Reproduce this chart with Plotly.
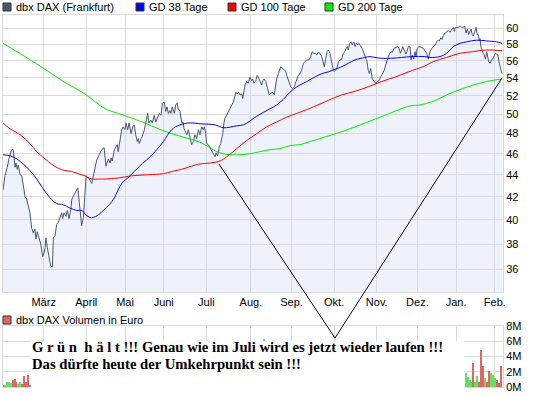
import plotly.graph_objects as go
import math

# ---------------- data ----------------
# x = trading-day index (0 = end of Jan 2009), y = price in EUR
price_x = [0, 1.0, 2.2, 3.3, 4.5, 5.3, 5.7, 6.2, 6.7, 7.4, 7.9, 8.8, 9.7, 10.5, 11.4, 12.2, 13.1, 13.9, 14.8, 15.6,
           16.5, 17.0, 17.7, 18.7, 19.5, 20.5, 21.2, 21.7, 22.2, 22.9, 23.9, 24.6, 25.5, 26.0, 26.9, 27.7, 28.6, 29.4,
           30.3, 30.8, 31.5, 32.5, 33.2, 34.1, 35.0, 35.6, 36.7, 37.7, 38.6, 39.4, 40.1, 40.6, 41.5, 42.3, 42.9, 43.5,
           44.6, 45.8, 47.0, 48.4, 49.7, 51.0, 52.2, 53.2, 54.4, 55.3, 55.8, 56.4, 57.5, 58.2, 59.0, 59.5, 60.4, 61.3,
           62.1, 63.0, 63.5, 64.4, 65.1, 66.1, 67.0, 67.8, 68.5, 69.4, 69.9, 70.4, 71.3, 71.9, 73.0, 73.7, 74.7, 75.4,
           76.3, 77.1, 78.1, 78.9, 79.9, 80.7, 81.6, 82.3, 83.3, 84.0, 84.7, 85.4, 86.1, 86.8, 87.4, 88.5, 89.2, 89.9,
           90.5, 91.4, 92.3, 93.0, 93.5, 94.1, 94.9, 95.7, 96.6, 97.4, 98.3, 99.1, 100.0, 100.9, 101.7, 102.6, 103.4,
           104.0, 104.7, 105.2, 106.0, 106.9, 107.8, 108.6, 109.5, 110.0, 110.7, 111.2, 111.7, 112.4, 112.9, 113.5,
           114.1, 114.6, 115.5, 116.3, 117.2, 118.1, 118.9, 119.8, 120.3, 121.0, 121.7, 122.4, 123.3, 123.8, 124.5,
           125.0, 125.8, 126.7, 127.5, 128.4, 128.9, 129.6, 130.5, 131.3, 132.2, 132.7, 133.6, 134.1, 134.8, 135.7,
           136.5, 137.5, 138.4, 139.3, 140.1, 140.6, 141.3, 142.2, 143.4, 144.4, 145.3, 146.0, 146.8, 147.7, 148.6,
           149.6, 150.4, 151.3, 152.5, 153.4, 154.2, 155.1, 156.0, 156.8, 158.0, 158.9, 159.7, 160.2, 161.3, 162.0,
           162.8, 163.7, 164.6, 165.4, 165.9, 166.6, 167.3, 168.0, 168.9, 169.4, 170.0, 170.6, 171.1, 171.8, 172.5,
           173.2, 174.0, 174.9, 175.7, 176.6, 177.1, 177.8, 178.3, 179.0, 179.7, 180.4, 181.1, 181.8, 182.5, 183.2,
           183.8, 184.7, 185.5, 186.4, 187.3, 188.0, 188.6, 189.2, 189.9, 190.7, 191.7, 192.5, 193.3, 194.2, 195.0,
           196.1, 196.9, 197.6, 198.5, 199.3, 200.4, 201.0, 201.9, 202.8, 203.8, 204.5, 205.2, 205.9, 206.4, 207.2,
           208.1, 208.6, 209.3, 210.2, 210.7, 211.4, 212.1, 212.8, 213.3, 213.9, 214.8, 216.2, 217.0, 217.9, 218.8,
           219.6, 220.5, 221.4, 222.2, 223.1, 224.0, 224.8, 225.3, 226.1, 226.7, 227.4, 228.3, 229.1, 230.0, 230.8,
           231.7, 232.5, 233.1, 233.6, 234.3, 235.1, 236.0, 236.9, 237.7, 238.4, 239.1, 239.8, 240.5, 241.2, 241.7,
           242.3, 242.9, 243.4, 244.3, 244.9, 245.4, 246.0, 246.3, 246.8, 247.5, 248.0, 248.5, 249.1, 249.8, 250.3,
           250.8, 251.5, 252.2, 252.9, 253.6, 254.2, 254.9, 255.6, 256.1, 256.6, 257.2, 257.7]
price_y = [42.6, 43.9, 44.7, 45.7, 46.4, 46.4, 45.7, 44.7, 45.1, 44.5, 44.9, 44.0, 43.9, 42.8, 42.0, 41.8, 41.2, 40.6,
           39.3, 38.9, 39.2, 38.4, 39.0, 38.5, 38.0, 37.0, 37.3, 37.7, 38.5, 37.7, 37.0, 36.3, 36.2, 38.5, 38.7, 39.6,
           39.8, 40.1, 40.6, 40.1, 40.6, 40.3, 40.8, 40.1, 40.9, 41.8, 42.2, 42.5, 42.8, 41.5, 40.2, 39.5, 40.2, 42.0,
           43.9, 43.8, 43.6, 43.2, 44.1, 45.4, 45.9, 46.4, 46.6, 44.8, 45.5, 45.1, 45.6, 45.3, 46.4, 46.7, 46.9, 46.2,
           47.2, 48.4, 48.7, 48.4, 49.1, 48.4, 49.1, 48.0, 48.7, 48.9, 47.9, 47.2, 47.5, 47.0, 47.5, 47.7, 48.4, 49.2,
           50.1, 49.1, 49.4, 49.1, 49.9, 49.2, 49.7, 50.1, 49.9, 51.2, 51.3, 50.3, 50.8, 50.1, 50.4, 50.1, 50.8, 50.1,
           51.0, 51.2, 50.6, 50.3, 49.1, 49.2, 48.5, 48.2, 47.9, 48.4, 47.5, 46.9, 47.2, 47.9, 47.5, 48.4, 47.9, 48.7,
           48.4, 48.7, 48.0, 47.0, 46.9, 46.6, 46.3, 45.9, 45.7, 46.1, 45.8, 46.1, 46.7, 47.0, 47.5, 48.0, 49.1, 49.6,
           49.9, 50.3, 50.6, 51.0, 51.3, 52.1, 52.4, 52.2, 52.4, 52.1, 52.2, 51.7, 52.8, 53.2, 53.6, 53.4, 54.1, 53.7,
           53.9, 53.4, 53.7, 54.3, 53.9, 53.6, 53.2, 53.7, 53.9, 53.6, 52.8, 52.1, 52.3, 52.4, 52.1, 52.8, 53.9, 54.5,
           55.3, 55.1, 54.9, 54.8, 54.1, 53.6, 53.0, 52.8, 53.0, 53.6, 54.3, 54.5, 54.9, 55.7, 55.9, 56.1, 56.1, 56.5,
           57.1, 56.9, 56.9, 56.7, 57.0, 56.9, 56.5, 55.5, 55.3, 56.2, 57.1, 57.3, 56.9, 56.2, 55.5, 54.9, 54.8, 54.9,
           55.2, 55.9, 56.1, 56.2, 56.9, 57.1, 57.5, 57.7, 57.3, 58.1, 58.3, 57.9, 58.3, 57.7, 58.1, 57.9, 58.1, 57.7,
           57.5, 56.9, 56.2, 55.9, 54.9, 54.5, 55.1, 53.9, 53.6, 53.4, 53.6, 53.7, 54.1, 54.5, 54.9, 55.5, 56.1, 56.7,
           57.1, 57.0, 57.5, 57.6, 57.7, 57.5, 56.9, 57.3, 57.7, 57.3, 56.8, 57.1, 57.7, 57.7, 56.1, 56.7, 56.2, 57.1,
           56.5, 57.5, 57.7, 57.6, 57.5, 57.2, 56.9, 56.2, 57.1, 57.5, 57.7, 57.9, 58.3, 58.5, 58.4, 58.8, 58.6, 59.1,
           59.4, 59.6, 59.7, 59.5, 59.9, 60.1, 59.6, 60.1, 60.1, 60.1, 60.3, 60.1, 60.1, 60.3, 59.4, 59.9, 59.2, 59.6,
           59.9, 59.2, 59.0, 59.4, 60.1, 59.2, 59.2, 58.5, 58.7, 57.7, 57.1, 56.9, 56.7, 56.2, 57.1, 56.2, 55.9, 55.7,
           56.1, 56.2, 56.5, 56.9, 56.8, 56.7, 55.9, 55.3, 54.9, 54.5]

gd38_x = [0, 3.6, 7.1, 10.5, 13.9, 17.4, 20.8, 24.3, 27.7, 31.1, 34.6, 38.1, 40.6, 42.9, 44.9, 46.6, 49.2, 51.8, 54.9,
          57.5, 61.3, 65.6, 69.9, 74.2, 78.5, 82.8, 87.1, 91.4, 96.6, 102.6, 109.5, 113.8, 120.7, 124.1, 127.5, 131.0,
          134.4, 137.9, 141.3, 144.7, 148.2, 151.7, 155.1, 158.5, 164.6, 168.0, 171.4, 174.9, 178.3, 181.8, 186.9,
          189.5, 192.1, 195.6, 200.7, 205.9, 211.1, 217.9, 220.5, 225.7, 229.1, 232.5, 236.0, 239.5, 244.6, 249.8,
          254.9, 257.7]
gd38_y = [45.9, 45.8, 45.5, 45.0, 44.4, 43.6, 42.7, 41.9, 41.4, 41.3, 41.0, 40.8, 40.8, 40.4, 40.2, 40.2, 40.4, 40.8,
          41.3, 41.9, 43.2, 43.9, 44.7, 45.4, 46.2, 47.2, 48.4, 48.9, 49.1, 49.0, 48.9, 48.6, 48.8, 48.9, 49.3, 49.8,
          50.2, 50.6, 51.0, 51.6, 52.4, 53.0, 53.4, 53.8, 54.5, 54.7, 55.0, 55.3, 55.7, 56.1, 56.4, 56.5, 56.4, 56.3,
          56.3, 56.4, 56.5, 56.5, 56.4, 56.5, 56.9, 57.7, 58.1, 58.3, 58.5, 58.4, 58.3, 58.1]

gd100_x = [0, 3.6, 8.8, 13.9, 17.4, 21.7, 25.1, 28.6, 32.0, 35.5, 38.9, 42.3, 45.8, 49.2, 52.7, 59.5, 66.5, 75.0,
           82.8, 87.1, 94.0, 100.9, 106.9, 112.1, 115.5, 120.7, 125.8, 131.0, 136.2, 141.3, 146.5, 151.7, 156.8,
           163.7, 168.0, 174.9, 181.8, 188.6, 195.6, 202.4, 209.3, 217.9, 222.2, 229.1, 236.0, 242.9, 249.8, 257.7]
gd100_y = [49.1, 48.5, 47.9, 47.0, 46.2, 45.5, 45.0, 44.6, 44.4, 44.3, 44.1, 43.9, 43.6, 43.6, 43.6, 43.7, 43.9, 44.0,
           44.1, 44.3, 44.6, 45.0, 45.1, 45.3, 45.7, 46.5, 47.3, 48.0, 48.7, 49.2, 49.7, 50.1, 50.5, 51.1, 51.5, 52.1,
           52.5, 53.0, 53.6, 54.1, 54.7, 55.4, 55.9, 56.4, 56.9, 57.1, 57.3, 57.2]

gd200_x = [0, 11.4, 21.7, 32.0, 42.3, 52.7, 59.5, 66.5, 73.3, 80.2, 87.1, 94.0, 100.9, 106.9, 110.4, 113.8, 117.2,
           122.4, 127.5, 132.7, 137.9, 143.0, 148.2, 153.4, 158.5, 163.7, 179.2, 194.7, 210.2, 215.3, 222.2, 229.1,
           236.0, 242.9, 249.8, 257.7]
gd200_y = [58.1, 56.5, 55.0, 53.5, 52.2, 50.6, 50.1, 49.6, 49.1, 48.5, 48.0, 47.6, 47.2, 46.6, 46.2, 46.0, 45.9,
           45.9, 46.0, 46.2, 46.4, 46.5, 46.8, 46.9, 47.2, 47.5, 48.5, 49.7, 50.9, 51.0, 51.4, 52.1, 52.7, 53.2, 53.6,
           53.9]

# volume (million EUR) of the bars that are visible, with day direction
vol_x = [0, 1, 2, 3, 4, 5, 6, 7, 8, 9, 10, 11, 12, 13, 14,
         135,
         239, 240, 241, 242, 243, 244, 245, 246, 247, 248, 249, 250, 251, 252, 253, 254, 255, 256, 257]
vol_y = [0.2, 0.3, 0.6, 0.6, 0.5, 0.9, 1.0, 0.7, 0.4, 0.6, 0.4, 1.5, 0.6, 1.6, 0.3,
         6.3,
         1.9, 1.3, 0.9, 0.6, 3.1, 0.7, 1.5, 0.6, 4.8, 2.8, 1.2, 0.6, 2.1, 1.8, 1.6, 1.2, 0.9, 0.5, 2.8]
vol_dir = ["down", "up", "up", "up", "up", "down", "down", "down", "up", "up", "down", "down", "down", "down", "down",
           "up",
           "up", "up", "up", "up", "down", "up", "up", "down", "down", "down", "up", "down", "down", "up", "up", "up",
           "down", "down", "down"]

month_ticks = [21, 43, 63, 83, 105, 128, 149, 171, 193, 214, 234, 254]
month_labels = ["März", "April", "Mai", "Juni", "Juli", "Aug.", "Sep.", "Okt.", "Nov.", "Dez.", "Jan.", "Feb."]
price_ticks = [36, 38, 40, 42, 44, 46, 48, 50, 52, 54, 56, 58, 60]
vol_ticks = [0, 2, 4, 6, 8]

# ---------------- figure ----------------
W, H = 545, 395
L, R, T, B = 3, 42, 15, 8
PW, PH = W - L - R, H - T - B


def px(x):
    return (x - L) / PW


def py(y):
    return (H - B - y) / PH


GRID = "#d9d9d9"
FONT = "Liberation Sans"
PRICE_COL = "#4a5570"

fig = go.Figure()
fig.add_trace(go.Scatter(x=[price_x[0], price_x[-1]], y=[30, 30], mode="lines",
                         line=dict(width=0), hoverinfo="skip", showlegend=False))
fig.add_trace(go.Scatter(x=price_x, y=price_y, mode="lines", line=dict(color=PRICE_COL, width=1),
                         fill="tonexty", fillcolor="rgba(209,218,244,0.35)", name="dbx DAX (Frankfurt)"))
fig.add_trace(go.Scatter(x=gd200_x, y=gd200_y, mode="lines", line=dict(color="#00ee00", width=1, shape="spline"),
                         name="GD 200 Tage"))
fig.add_trace(go.Scatter(x=gd100_x, y=gd100_y, mode="lines", line=dict(color="#ff0000", width=1, shape="spline"),
                         name="GD 100 Tage"))
fig.add_trace(go.Scatter(x=gd38_x, y=gd38_y, mode="lines", line=dict(color="#0000ff", width=1, shape="spline"),
                         name="GD 38 Tage"))
fig.add_trace(go.Bar(x=vol_x, y=vol_y, width=0.6,
                     marker=dict(color=["#66dd66" if d == "up" else "#dd6666" for d in vol_dir], line=dict(width=0)),
                     xaxis="x2", yaxis="y2", name="Volumen"))

axis_common = dict(showgrid=True, gridcolor=GRID, gridwidth=1, showline=True, linecolor=GRID, linewidth=1,
                   mirror=True, zeroline=False, ticks="", tickfont=dict(family=FONT, size=11, color="#000000"))

main_bottom = py(292)
vol_top = py(326)

fig.update_layout(
    width=W, height=H, autosize=False,
    margin=dict(l=L, r=R, t=T, b=B),
    paper_bgcolor="white", plot_bgcolor="white",
    showlegend=False, bargap=0,
    xaxis=dict(domain=[0, 1], range=[0, 258.2], tickvals=month_ticks, ticktext=month_labels, anchor="y",
               **axis_common),
    yaxis=dict(domain=[main_bottom, 1], type="log", range=[math.log10(34.33), math.log10(61.7)], side="right",
               tickvals=price_ticks, ticktext=[str(v) for v in price_ticks], anchor="x", **axis_common),
    xaxis2=dict(domain=[0, 1], range=[0, 258.2], tickvals=month_ticks, showticklabels=False, anchor="y2",
                **axis_common),
    yaxis2=dict(domain=[0, vol_top], range=[0, 8], side="right", tickvals=vol_ticks,
                ticktext=[f"{v}M" for v in vol_ticks], anchor="x2", **axis_common),
)

shapes = []
annotations = []

# legend of the price panel
legend_items = [("dbx DAX (Frankfurt)", PRICE_COL, 3), ("GD 38 Tage", "#0000ff", 136),
                ("GD 100 Tage", "#ff0000", 228), ("GD 200 Tage", "#00ee00", 325)]
for text, col, x0 in legend_items:
    shapes.append(dict(type="rect", xref="paper", yref="paper", x0=px(x0), x1=px(x0 + 8), y0=py(11), y1=py(3),
                       fillcolor=col, line=dict(color="#333333", width=1)))
    annotations.append(dict(xref="paper", yref="paper", x=px(x0 + 11), y=py(7.5), text=text, showarrow=False,
                            xanchor="left", yanchor="middle", font=dict(family=FONT, size=11, color="#000000")))

# legend of the volume panel
shapes.append(dict(type="rect", xref="paper", yref="paper", x0=px(3), x1=px(11), y0=py(324), y1=py(316),
                   fillcolor="#dd6666", line=dict(color="#333333", width=1)))
annotations.append(dict(xref="paper", yref="paper", x=px(14), y=py(320), text="dbx DAX Volumen in Euro",
                        showarrow=False, xanchor="left", yanchor="middle",
                        font=dict(family=FONT, size=11, color="#000000")))

# white comment box over the volume panel
shapes.append(dict(type="rect", xref="paper", yref="paper", x0=px(30.6), x1=px(464), y0=py(392), y1=py(341),
                   fillcolor="white", line=dict(width=0), layer="above"))

# hand-drawn V
v_pts = [(219, 164), (335, 338), (502, 78)]
for (xa, ya), (xb, yb) in zip(v_pts[:-1], v_pts[1:]):
    shapes.append(dict(type="line", xref="paper", yref="paper", x0=px(xa), y0=py(ya), x1=px(xb), y1=py(yb),
                       line=dict(color="#000000", width=1), layer="above"))

comment_lines = ["G r ü n \u00a0h ä l t !!! Genau wie im Juli wird es jetzt wieder laufen !!!",
                 "Das dürfte heute der Umkehrpunkt sein !!!"]
for text, yc in zip(comment_lines, [347, 364]):
    annotations.append(dict(xref="paper", yref="paper", x=px(29.5), y=py(yc), text="<b>" + text + "</b>",
                            showarrow=False, xanchor="left", yanchor="middle",
                            font=dict(family="Liberation Serif", size=14.7, color="#000000")))

fig.update_layout(shapes=shapes, annotations=annotations)
fig.write_html("out.html", config={"displayModeBar": False},
               post_script="document.body.style.margin='0px';")
